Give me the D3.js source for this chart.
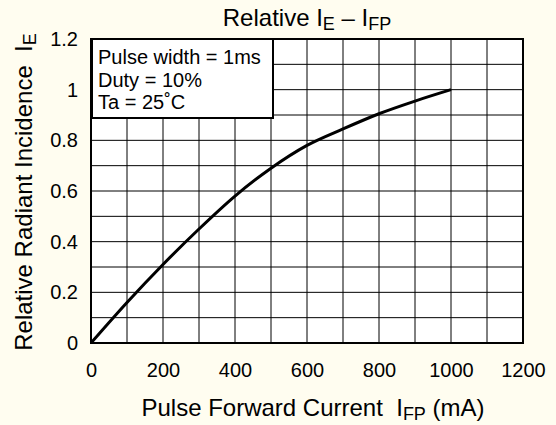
<!DOCTYPE html>
<html><head><meta charset="utf-8">
<script src="https://cdn.jsdelivr.net/npm/d3@7"></script>
<style>
html,body{margin:0;padding:0;background:#fffdf0;}
svg{display:block;font-family:"Liberation Sans",Arial,sans-serif;}
</style></head>
<body>
<svg id="c" width="556" height="425"></svg>
<script>
// Data
const currents = [0, 100, 200, 300, 400, 500, 600, 700, 800, 900, 1000];
const relIncidence = [0, 0.16, 0.31, 0.45, 0.58, 0.69, 0.78, 0.845, 0.905, 0.955, 1.0];
const xTicks = [0, 200, 400, 600, 800, 1000, 1200];
const yTicks = [0, 0.2, 0.4, 0.6, 0.8, 1, 1.2];
const xGrid = d3.range(0, 1201, 100);
const yGrid = d3.range(0, 1.21, 0.1);
const legendLines = ["Pulse width = 1ms", "Duty = 10%", "Ta = 25˚C"];

const svg = d3.select("#c");
const x = d3.scaleLinear().domain([0, 1200]).range([91, 523]);
const y = d3.scaleLinear().domain([0, 1.2]).range([343, 39]);
const FF = "Liberation Sans, Arial, sans-serif";

svg.append("rect").attr("width", 556).attr("height", 425).attr("fill", "#fffdf0");
svg.append("rect").attr("x", x(0)).attr("y", y(1.2)).attr("width", x(1200) - x(0)).attr("height", y(0) - y(1.2)).attr("fill", "#fff");

// grid
svg.append("g").selectAll("line").data(xGrid).join("line")
  .attr("x1", d => x(d)).attr("x2", d => x(d)).attr("y1", y(0)).attr("y2", y(1.2))
  .attr("stroke", "#000").attr("stroke-width", 1);
svg.append("g").selectAll("line").data(yGrid).join("line")
  .attr("y1", d => y(d)).attr("y2", d => y(d)).attr("x1", x(0)).attr("x2", x(1200))
  .attr("stroke", "#000").attr("stroke-width", 1);

// border
svg.append("rect").attr("x", x(0)).attr("y", y(1.2)).attr("width", x(1200) - x(0)).attr("height", y(0) - y(1.2))
  .attr("fill", "none").attr("stroke", "#000").attr("stroke-width", 2);

// axes (labels only)
const xAxis = svg.append("g").attr("transform", `translate(0,${y(0)})`)
  .call(d3.axisBottom(x).tickValues(xTicks).tickSize(0).tickPadding(20).tickFormat(d3.format("d")));
xAxis.select(".domain").remove();
xAxis.selectAll("text").attr("font-size", 20).attr("fill", "#000").attr("font-family", FF);

const yAxis = svg.append("g").attr("transform", `translate(${x(0)},0)`)
  .call(d3.axisLeft(y).tickValues(yTicks).tickSize(0).tickPadding(13).tickFormat(d => d3.format("")(+d.toFixed(1))));
yAxis.select(".domain").remove();
yAxis.selectAll("text").attr("font-size", 20).attr("fill", "#000").attr("font-family", FF);

// curve
const pts = currents.map((c, i) => [c, relIncidence[i]]);
svg.append("path").datum(pts)
  .attr("d", d3.line().x(d => x(d[0])).y(d => y(d[1])).curve(d3.curveMonotoneX))
  .attr("fill", "none").attr("stroke", "#000").attr("stroke-width", 3);

// legend box
svg.append("rect").attr("x", x(0) + 1).attr("y", y(1.2)).attr("width", 181).attr("height", 79)
  .attr("fill", "#fff").attr("stroke", "#000").attr("stroke-width", 2);
svg.append("g").selectAll("text").data(legendLines).join("text")
  .attr("x", 98).attr("y", (d, i) => 64 + i * 22.5)
  .attr("font-size", 20).text(d => d);

// title
const t = svg.append("text").attr("x", 307).attr("y", 26).attr("text-anchor", "middle").attr("font-size", 24);
t.append("tspan").text("Relative I");
t.append("tspan").attr("font-size", 18).attr("dy", 4).text("E");
t.append("tspan").attr("dy", -4).text(" – I");
t.append("tspan").attr("font-size", 18).attr("dy", 4).text("FP");

// x title
const xt = svg.append("text").attr("x", 313).attr("y", 416).attr("text-anchor", "middle").attr("font-size", 24);
xt.append("tspan").text("Pulse Forward Current\u00a0\u00a0I");
xt.append("tspan").attr("font-size", 18).attr("dy", 4).text("FP");
xt.append("tspan").attr("dy", -4).text(" (mA)");

// y title
const yt = svg.append("text").attr("transform", `translate(32,${192}) rotate(-90)`).attr("text-anchor", "middle").attr("font-size", 24);
yt.append("tspan").text("Relative Radiant Incidence\u00a0\u00a0I");
yt.append("tspan").attr("font-size", 18).attr("dy", 4).text("E");
</script>
</body></html>
